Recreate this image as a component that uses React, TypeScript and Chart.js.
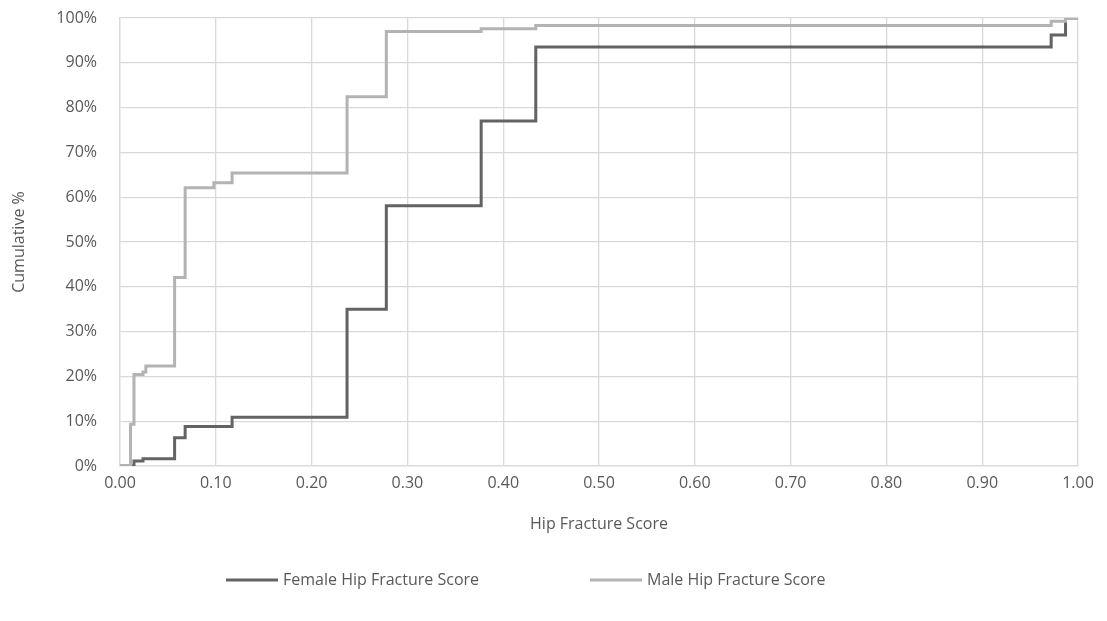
import React, { useEffect, useRef } from "react";
import { Chart, registerables } from "chart.js";

Chart.register(...registerables);

// Hip fracture score at which each cumulative step occurs, with the cumulative share (%) reached there.
const femaleScores = [0, 0.0146, 0.024, 0.057, 0.068, 0.117, 0.237, 0.278, 0.377, 0.434, 0.972, 0.987, 1.0];
const femaleCumPct = [0, 1.1, 1.6, 6.3, 8.8, 10.9, 35.0, 58.1, 77.0, 93.5, 96.2, 100, 100];

const maleScores = [0, 0.011, 0.0146, 0.024, 0.027, 0.057, 0.068, 0.098, 0.117, 0.237, 0.278, 0.377, 0.434, 0.972, 0.987, 1.0];
const maleCumPct = [0, 9.3, 20.4, 21.0, 22.3, 42.1, 62.1, 63.2, 65.4, 82.4, 97.0, 97.6, 98.3, 99.3, 100, 100];

const seriesLabels = ["Female Hip Fracture Score", "Male Hip Fracture Score"];
const seriesColors = ["#636363", "#b3b3b3"];

const xTickValues = [0, 0.1, 0.2, 0.3, 0.4, 0.5, 0.6, 0.7, 0.8, 0.9, 1.0];
const yTickValues = [0, 10, 20, 30, 40, 50, 60, 70, 80, 90, 100];

const xTitle = "Hip Fracture Score";
const yTitle = "Cumulative %";

const FONT = '"Open Sans", sans-serif';
const TEXT_COLOR = "#595959";
const GRID_COLOR = "#d9d9d9";

const toPoints = (xs: number[], ys: number[]) => xs.map((x, i) => ({ x, y: ys[i] }));

// Legend drawn below the axis title: a short line sample followed by the series name.
const bottomLegend = {
  id: "bottomLegend",
  afterDraw(chart: any) {
    const { ctx } = chart;
    const itemLefts = [226, 590];
    const y = 580;
    ctx.save();
    ctx.font = `16px ${FONT}`;
    ctx.textBaseline = "middle";
    ctx.textAlign = "left";
    chart.data.datasets.forEach((ds: any, i: number) => {
      const x = itemLefts[i];
      ctx.strokeStyle = ds.borderColor;
      ctx.lineWidth = 3;
      ctx.beginPath();
      ctx.moveTo(x, y);
      ctx.lineTo(x + 52, y);
      ctx.stroke();
      ctx.fillStyle = TEXT_COLOR;
      ctx.fillText(ds.label, x + 57, y);
    });
    ctx.restore();
  },
};

export default function App() {
  const canvasRef = useRef<HTMLCanvasElement | null>(null);

  useEffect(() => {
    document.body.style.margin = "0";
    const canvas = canvasRef.current;
    if (!canvas) return;

    const chart = new Chart(canvas, {
      type: "line",
      data: {
        datasets: [
          {
            label: seriesLabels[0],
            data: toPoints(femaleScores, femaleCumPct),
            borderColor: seriesColors[0],
            backgroundColor: seriesColors[0],
            borderWidth: 3,
            stepped: "before",
            pointRadius: 0,
            fill: false,
            order: 2,
          },
          {
            label: seriesLabels[1],
            data: toPoints(maleScores, maleCumPct),
            borderColor: seriesColors[1],
            backgroundColor: seriesColors[1],
            borderWidth: 3,
            stepped: "before",
            pointRadius: 0,
            fill: false,
            order: 1,
          },
        ],
      },
      options: {
        animation: false,
        responsive: false,
        devicePixelRatio: 1,
        parsing: false as any,
        layout: { padding: { top: 18, right: 29, left: 0, bottom: 75 } },
        plugins: {
          legend: { display: false },
          tooltip: { enabled: false },
        },
        scales: {
          x: {
            type: "linear",
            min: 0,
            max: 1,
            afterBuildTicks: (scale: any) => {
              scale.ticks = xTickValues.map((value) => ({ value }));
            },
            afterFit: (scale: any) => {
              scale.height = 80;
            },
            ticks: {
              color: TEXT_COLOR,
              font: { family: FONT, size: 16 },
              padding: 8,
              maxRotation: 0,
              autoSkip: false,
              callback: (v: any) => Number(v).toFixed(2),
            },
            grid: { color: GRID_COLOR, lineWidth: 1.3, drawTicks: false },
            border: { color: GRID_COLOR, width: 1.3 },
            title: {
              display: true,
              text: xTitle,
              color: TEXT_COLOR,
              font: { family: FONT, size: 16 },
              padding: { top: 12, bottom: 12 },
            },
          },
          y: {
            type: "linear",
            min: 0,
            max: 100,
            afterBuildTicks: (scale: any) => {
              scale.ticks = yTickValues.map((value) => ({ value }));
            },
            afterFit: (scale: any) => {
              scale.width = 120;
            },
            ticks: {
              color: TEXT_COLOR,
              font: { family: FONT, size: 16 },
              padding: 3,
              autoSkip: false,
              callback: (v: any) => `${v}%`,
            },
            grid: {
              color: GRID_COLOR,
              lineWidth: 1.3,
              drawTicks: true,
              tickLength: 20,
              tickColor: "rgba(0,0,0,0)",
            },
            border: { color: GRID_COLOR, width: 1.3 },
            title: {
              display: true,
              text: yTitle,
              color: TEXT_COLOR,
              font: { family: FONT, size: 16 },
              padding: { top: 10, bottom: 10 },
            },
          },
        },
      },
      plugins: [bottomLegend],
    });

    return () => chart.destroy();
  }, []);

  return (
    <div style={{ position: "absolute", left: 0, top: 0, width: 1107, height: 621, background: "#ffffff" }}>
      <canvas ref={canvasRef} width={1107} height={621} />
    </div>
  );
}
